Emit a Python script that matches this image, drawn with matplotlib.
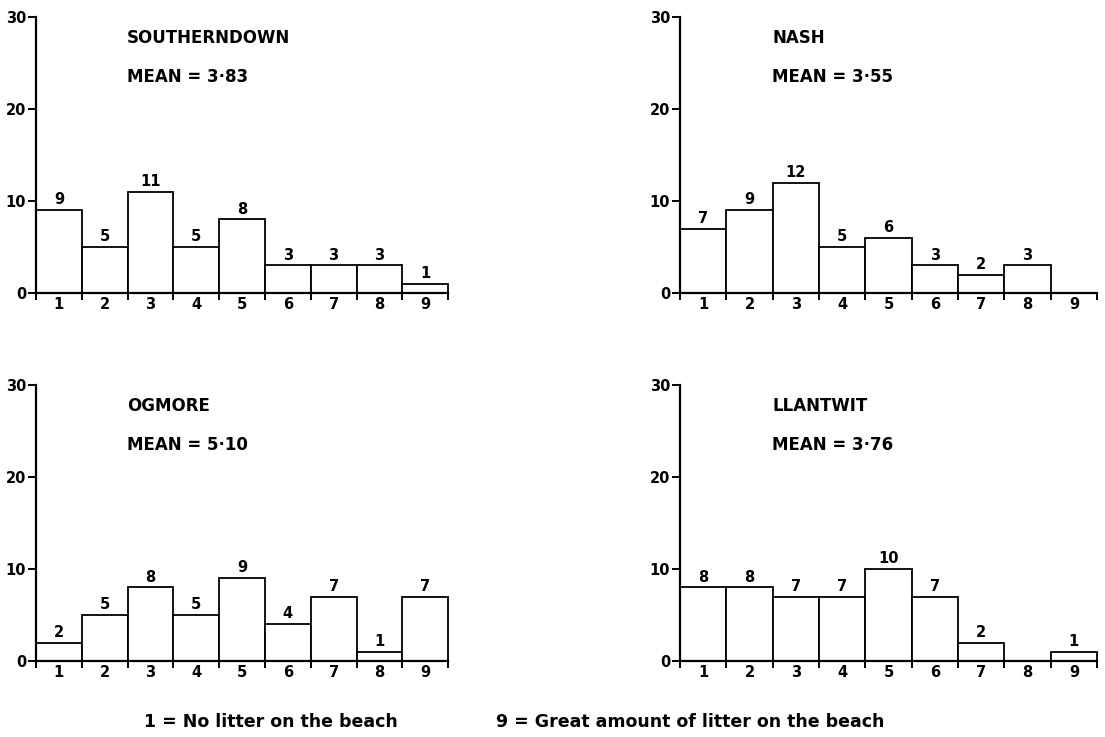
import matplotlib.pyplot as plt

plt.rcParams['font.family'] = ['DejaVu Sans']
plt.rcParams['font.weight'] = 'bold'

# litter score categories 1..9
scores = [1, 2, 3, 4, 5, 6, 7, 8, 9]

# number of responses per score, for each beach
southerndown = [9, 5, 11, 5, 8, 3, 3, 3, 1]
nash = [7, 9, 12, 5, 6, 3, 2, 3, 0]
ogmore = [2, 5, 8, 5, 9, 4, 7, 1, 7]
llantwit = [8, 8, 7, 7, 10, 7, 2, 0, 1]

names = ['SOUTHERNDOWN', 'NASH', 'OGMORE', 'LLANTWIT']
means = ['3·83', '3·55', '5·10', '3·76']
yticks = [0, 10, 20, 30]

fig = plt.figure(figsize=(11.05, 7.37), dpi=100)

# axes boxes in figure fractions (left, bottom, width, height)
boxes = [
    [0.0326, 0.6024, 0.3729, 0.3745],
    [0.6154, 0.6024, 0.3774, 0.3745],
    [0.0326, 0.1031, 0.3729, 0.3745],
    [0.6154, 0.1031, 0.3774, 0.3745],
]
series = [southerndown, nash, ogmore, llantwit]

for box, counts, name, mean in zip(boxes, series, names, means):
    ax = fig.add_axes(box)
    bars = ax.bar(scores, counts, width=1.0, color='white', edgecolor='black', linewidth=1.3)
    for b in bars:
        b.set_clip_on(False)
    for x, c in zip(scores, counts):
        if c > 0:
            ax.text(x, c + 0.3, str(c), ha='center', va='bottom', fontsize=10.5, fontweight='bold')

    ax.set_xlim(0.5, 9.5)
    ax.set_ylim(0, 30)
    ax.spines['top'].set_visible(False)
    ax.spines['right'].set_visible(False)
    ax.spines['left'].set_linewidth(1.6)
    ax.spines['bottom'].set_linewidth(1.6)

    # y ticks
    ax.set_yticks(yticks)
    ax.tick_params(axis='y', direction='out', length=6, width=1.4, pad=1, labelsize=10.5)

    # x: tick marks at bin edges, labels in bin centres
    ax.set_xticks([s - 0.5 for s in scores] + [9.5])
    ax.set_xticklabels([])
    ax.tick_params(axis='x', which='major', direction='out', length=5, width=1.4)
    ax.set_xticks(scores, minor=True)
    ax.set_xticklabels([str(s) for s in scores], minor=True)
    ax.tick_params(axis='x', which='minor', length=0, pad=3, labelsize=10.5)
    for lbl in ax.get_xticklabels(minor=True) + ax.get_yticklabels():
        lbl.set_fontweight('bold')

    ax.text(0.221, 0.924, name, transform=ax.transAxes, ha='left', va='center',
            fontsize=12, fontweight='bold')
    ax.text(0.221, 0.783, 'MEAN = ' + mean, transform=ax.transAxes, ha='left', va='center',
            fontsize=12, fontweight='bold')

fig.text(144 / 1105, 1 - 722 / 737, '1 = No litter on the beach', ha='left', va='center',
         fontsize=12.5, fontweight='bold')
fig.text(496 / 1105, 1 - 722 / 737, '9 = Great amount of litter on the beach', ha='left',
         va='center', fontsize=12.5, fontweight='bold')

fig.savefig('out.png', dpi=100)
